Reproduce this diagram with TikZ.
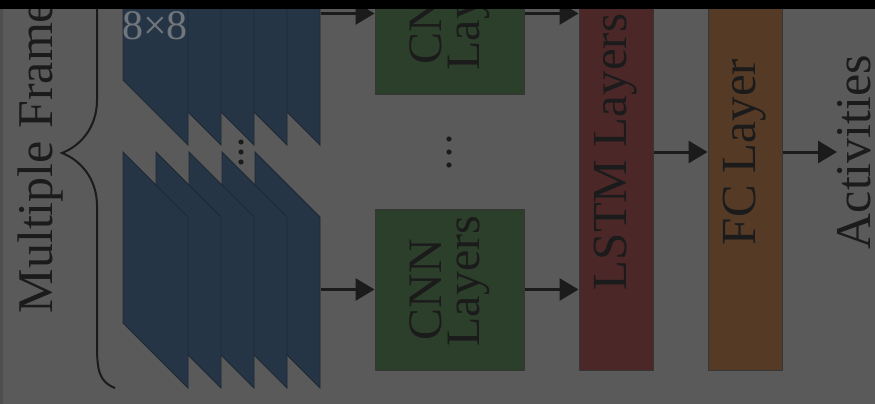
\documentclass[tikz,border=0pt]{standalone}
\usepackage{fontspec}
\setmainfont{Liberation Serif}
\usetikzlibrary{arrows.meta}

\definecolor{bgc}{HTML}{5A5A5A}
\definecolor{stripc}{HTML}{4E4E4E}
\definecolor{ink}{HTML}{1B1B1B}
\definecolor{framec}{HTML}{263546}
\definecolor{frameedge}{HTML}{1D2833}
\definecolor{sizec}{HTML}{70767C}
\definecolor{cnnc}{HTML}{2C3F2B}
\definecolor{lstmc}{HTML}{4B2727}
\definecolor{fcc}{HTML}{553A26}
\definecolor{edgec}{HTML}{363636}

\begin{document}
\begin{tikzpicture}[x=1pt,y=-1pt,
  arr/.style={line width=3pt, draw=ink, -{Triangle[length=19pt,width=22pt]}},
  layerbox/.style={draw=edgec, line width=1pt, inner sep=0pt, text=ink,
    font=\fontsize{48}{38}\selectfont},
  framebox/.style={fill=framec, draw=frameedge, line width=0.9pt},
  dotc/.style={fill=ink},
  tag/.style={inner sep=0pt, text=ink, font=\fontsize{50}{60}\selectfont},
]
\useasboundingbox (0,0) rectangle (875,404);
\clip (0,0) rectangle (875,404);

% background, darker left strip and top band
\fill[bgc] (0,0) rectangle (875,404);
\fill[stripc] (0,0) rectangle (3,404);

% stacked input frames: upper and lower groups, front frame on the left
\foreach \i in {4,3,2,1,0}{
  \pgfmathsetmacro{\xa}{123+33*\i}
  \filldraw[framebox] (\xa,-91) -- (\xa,80) -- (\xa+65,145) -- (\xa+65,-26) -- cycle;
}
\foreach \i in {4,3,2,1,0}{
  \pgfmathsetmacro{\xa}{123+33*\i}
  \filldraw[framebox] (\xa,152) -- (\xa,323) -- (\xa+65,388) -- (\xa+65,217) -- cycle;
}
\node[anchor=north west, inner sep=0pt, text=sizec,
      font=\fontsize{42}{50}\selectfont] (size) at (122,11) {8×8};

% vertical ellipses
\foreach \yy in {142,152,162} \fill[dotc] (241,\yy) circle (2.6);
\foreach \yy in {139,152,165} \fill[dotc] (449,\yy) circle (2.6);

% brace and its label
\draw[ink, line width=2pt]
  (115,-82) .. controls (100,-76) and (97,-66) .. (97,-40) -- (97,100)
  .. controls (97,128) and (80,146) .. (62,153)
  .. controls (80,160) and (97,178) .. (97,206) -- (97,346)
  .. controls (97,372) and (100,382) .. (115,388);
\node[tag, anchor=south] (mf) at (40,313.5) {\rotatebox{90}{Multiple Frames}};

% layer blocks
\node[layerbox, fill=cnnc, minimum width=149pt, minimum height=161pt] (cnn1) at (449.5,13.5)
  {\rotatebox{90}{\parbox{4cm}{\centering CNN\\Layers}}};
\node[layerbox, fill=cnnc, minimum width=149pt, minimum height=161pt] (cnn2) at (449.5,289.5)
  {\rotatebox{90}{\parbox{4cm}{\centering CNN\\Layers}}};
\node[layerbox, fill=lstmc, minimum width=74pt, minimum height=436pt,
      font=\fontsize{49}{58}\selectfont] (lstm) at (616,152) {\rotatebox{90}{LSTM Layers}};
\node[layerbox, fill=fcc, minimum width=74pt, minimum height=436pt,
      font=\fontsize{49}{58}\selectfont] (fc) at (745,152) {\rotatebox{90}{FC Layer}};
\node[tag, anchor=west] (act) at (837,152) {\rotatebox{90}{Activities}};

% connectors
\coordinate (fr1) at (320.5,13.5);
\coordinate (fr2) at (320.5,289.5);
\draw[arr] (fr1) -- (cnn1);
\draw[arr] (fr2) -- (cnn2);
\draw[arr] (cnn1.east) -- (cnn1.east -| lstm.west);
\draw[arr] (cnn2.east) -- (cnn2.east -| lstm.west);
\draw[arr] (lstm) -- (fc);
\draw[arr] (fc) -- (act);

% dark band along the top edge
\fill[black] (0,0) rectangle (875,9);
\end{tikzpicture}
\end{document}
